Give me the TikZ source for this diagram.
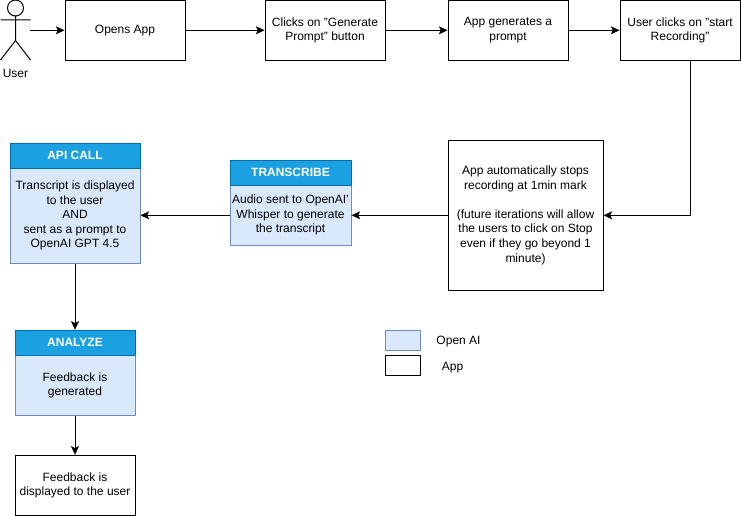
\documentclass[tikz,border=0pt]{standalone}
\usepackage{fontspec}
\setmainfont{Liberation Sans}
\usetikzlibrary{calc}
\usetikzlibrary{arrows.meta}
\tikzset{>={Stealth[length=6.5pt,width=6pt,inset=1.5pt]}}
\definecolor{laneblue}{HTML}{1BA1E2}
\definecolor{laneedge}{HTML}{006EAF}
\definecolor{aifill}{HTML}{DAE8FC}
\definecolor{aiedge}{HTML}{6C8EBF}
\tikzset{
	txt/.style={font=\fontsize{9}{10.9}\selectfont,align=center,inner sep=0pt},
	bodytxt/.style={txt,execute at begin node={\vspace*{3.2pt}}},
	appbox/.style={bodytxt,draw=black,fill=white,line width=0.75pt},
	aibox/.style={bodytxt,draw=aiedge,fill=aifill,line width=0.75pt},
	lanehead/.style={txt,draw=laneedge,fill=laneblue,text=white,line width=0.75pt},
	flow/.style={line width=0.75pt,->},
}

\begin{document}
\begin{tikzpicture}[x=0.75pt,y=-0.75pt]
			\useasboundingbox (0,0) rectangle (741,516);
			% top row
			\node[minimum width=22.5pt,minimum height=45pt,inner sep=0pt] (user) at (15,30.3) {};
			\node[txt] (userlabel) at (15.5,73) {User};
			\draw[line width=0.75pt] (15.5,8) circle (8)
				(15.5,16)--(15.5,40.5) (0.5,20)--(30.5,20) (0.5,60)--(15.5,40.5)--(30.5,60);
			\node[appbox,minimum width=90pt,minimum height=45pt] (opens) at (125,30.3) {Opens App};
			\node[appbox,minimum width=90pt,minimum height=45pt] (clicks) at (325,30.3) {Clicks on "Generate\\Prompt" button};
			\node[appbox,minimum width=90pt,minimum height=45pt] (prompt) at (508,30.3) {App generates a\\prompt};
			\node[appbox,minimum width=90pt,minimum height=45pt] (record) at (680,30.3) {User clicks on "start\\Recording"};
			% middle row
			\node[appbox,minimum width=116.25pt,minimum height=112.5pt] (stops) at (525.5,215.3) {App automatically stops\\recording at 1min mark\\[10.9pt](future iterations will allow\\the users to click on Stop\\even if they go beyond 1\\minute)};
			\node[aibox,minimum width=90.75pt,minimum height=45pt] (whisper) at (290.5,215.3) {Audio sent to OpenAI'\\Whisper to generate\\the transcript};
			\node[lanehead,minimum width=90.75pt,minimum height=18.75pt] (transcribe) at (290.5,172.8) {\textbf{TRANSCRIBE}};
			\node[aibox,minimum width=97.5pt,minimum height=71.25pt] (display) at (75,215.8) {Transcript is displayed\\to the user\\AND\\sent as a prompt to\\OpenAI GPT 4.5};
			\node[lanehead,minimum width=97.5pt,minimum height=18.75pt] (apicall) at (75,155.8) {\textbf{API CALL}};
			% left column
			\node[aibox,minimum width=90pt,minimum height=45pt] (generated) at (75,385.3) {Feedback is\\generated};
			\node[lanehead,minimum width=90pt,minimum height=18.75pt] (analyze) at (75,342.8) {\textbf{ANALYZE}};
			\node[appbox,minimum width=90pt,minimum height=45pt] (shown) at (75,485.3) {Feedback is\\displayed to the user};
			% legend
			\node[aibox,minimum width=26.25pt,minimum height=15pt] (keyai) at (403,340.5) {};
			\node[appbox,minimum width=26.25pt,minimum height=15pt] (keyapp) at (403,365.5) {};
			\node[txt] (keyailabel) at (458.5,342) {Open AI};
			\node[txt] (keyapplabel) at (452.5,367.5) {App};

			\draw[flow] (user.east)--(opens.west);
			\draw[flow] (opens.east)--(clicks.west);
			\draw[flow] (clicks.east)--(prompt.west);
			\draw[flow] (prompt.east)--(record.west);
			\draw[flow] ([xshift=8pt]record.south) |- (stops.east);
			\draw[flow] (stops.west)--(whisper.east);
			\draw[flow] (whisper.west)--(whisper.west-|display.east);
			\draw[flow] (display.south)--(analyze.north);
			\draw[flow] (generated.south)--(shown.north);
		\end{tikzpicture}
\end{document}
